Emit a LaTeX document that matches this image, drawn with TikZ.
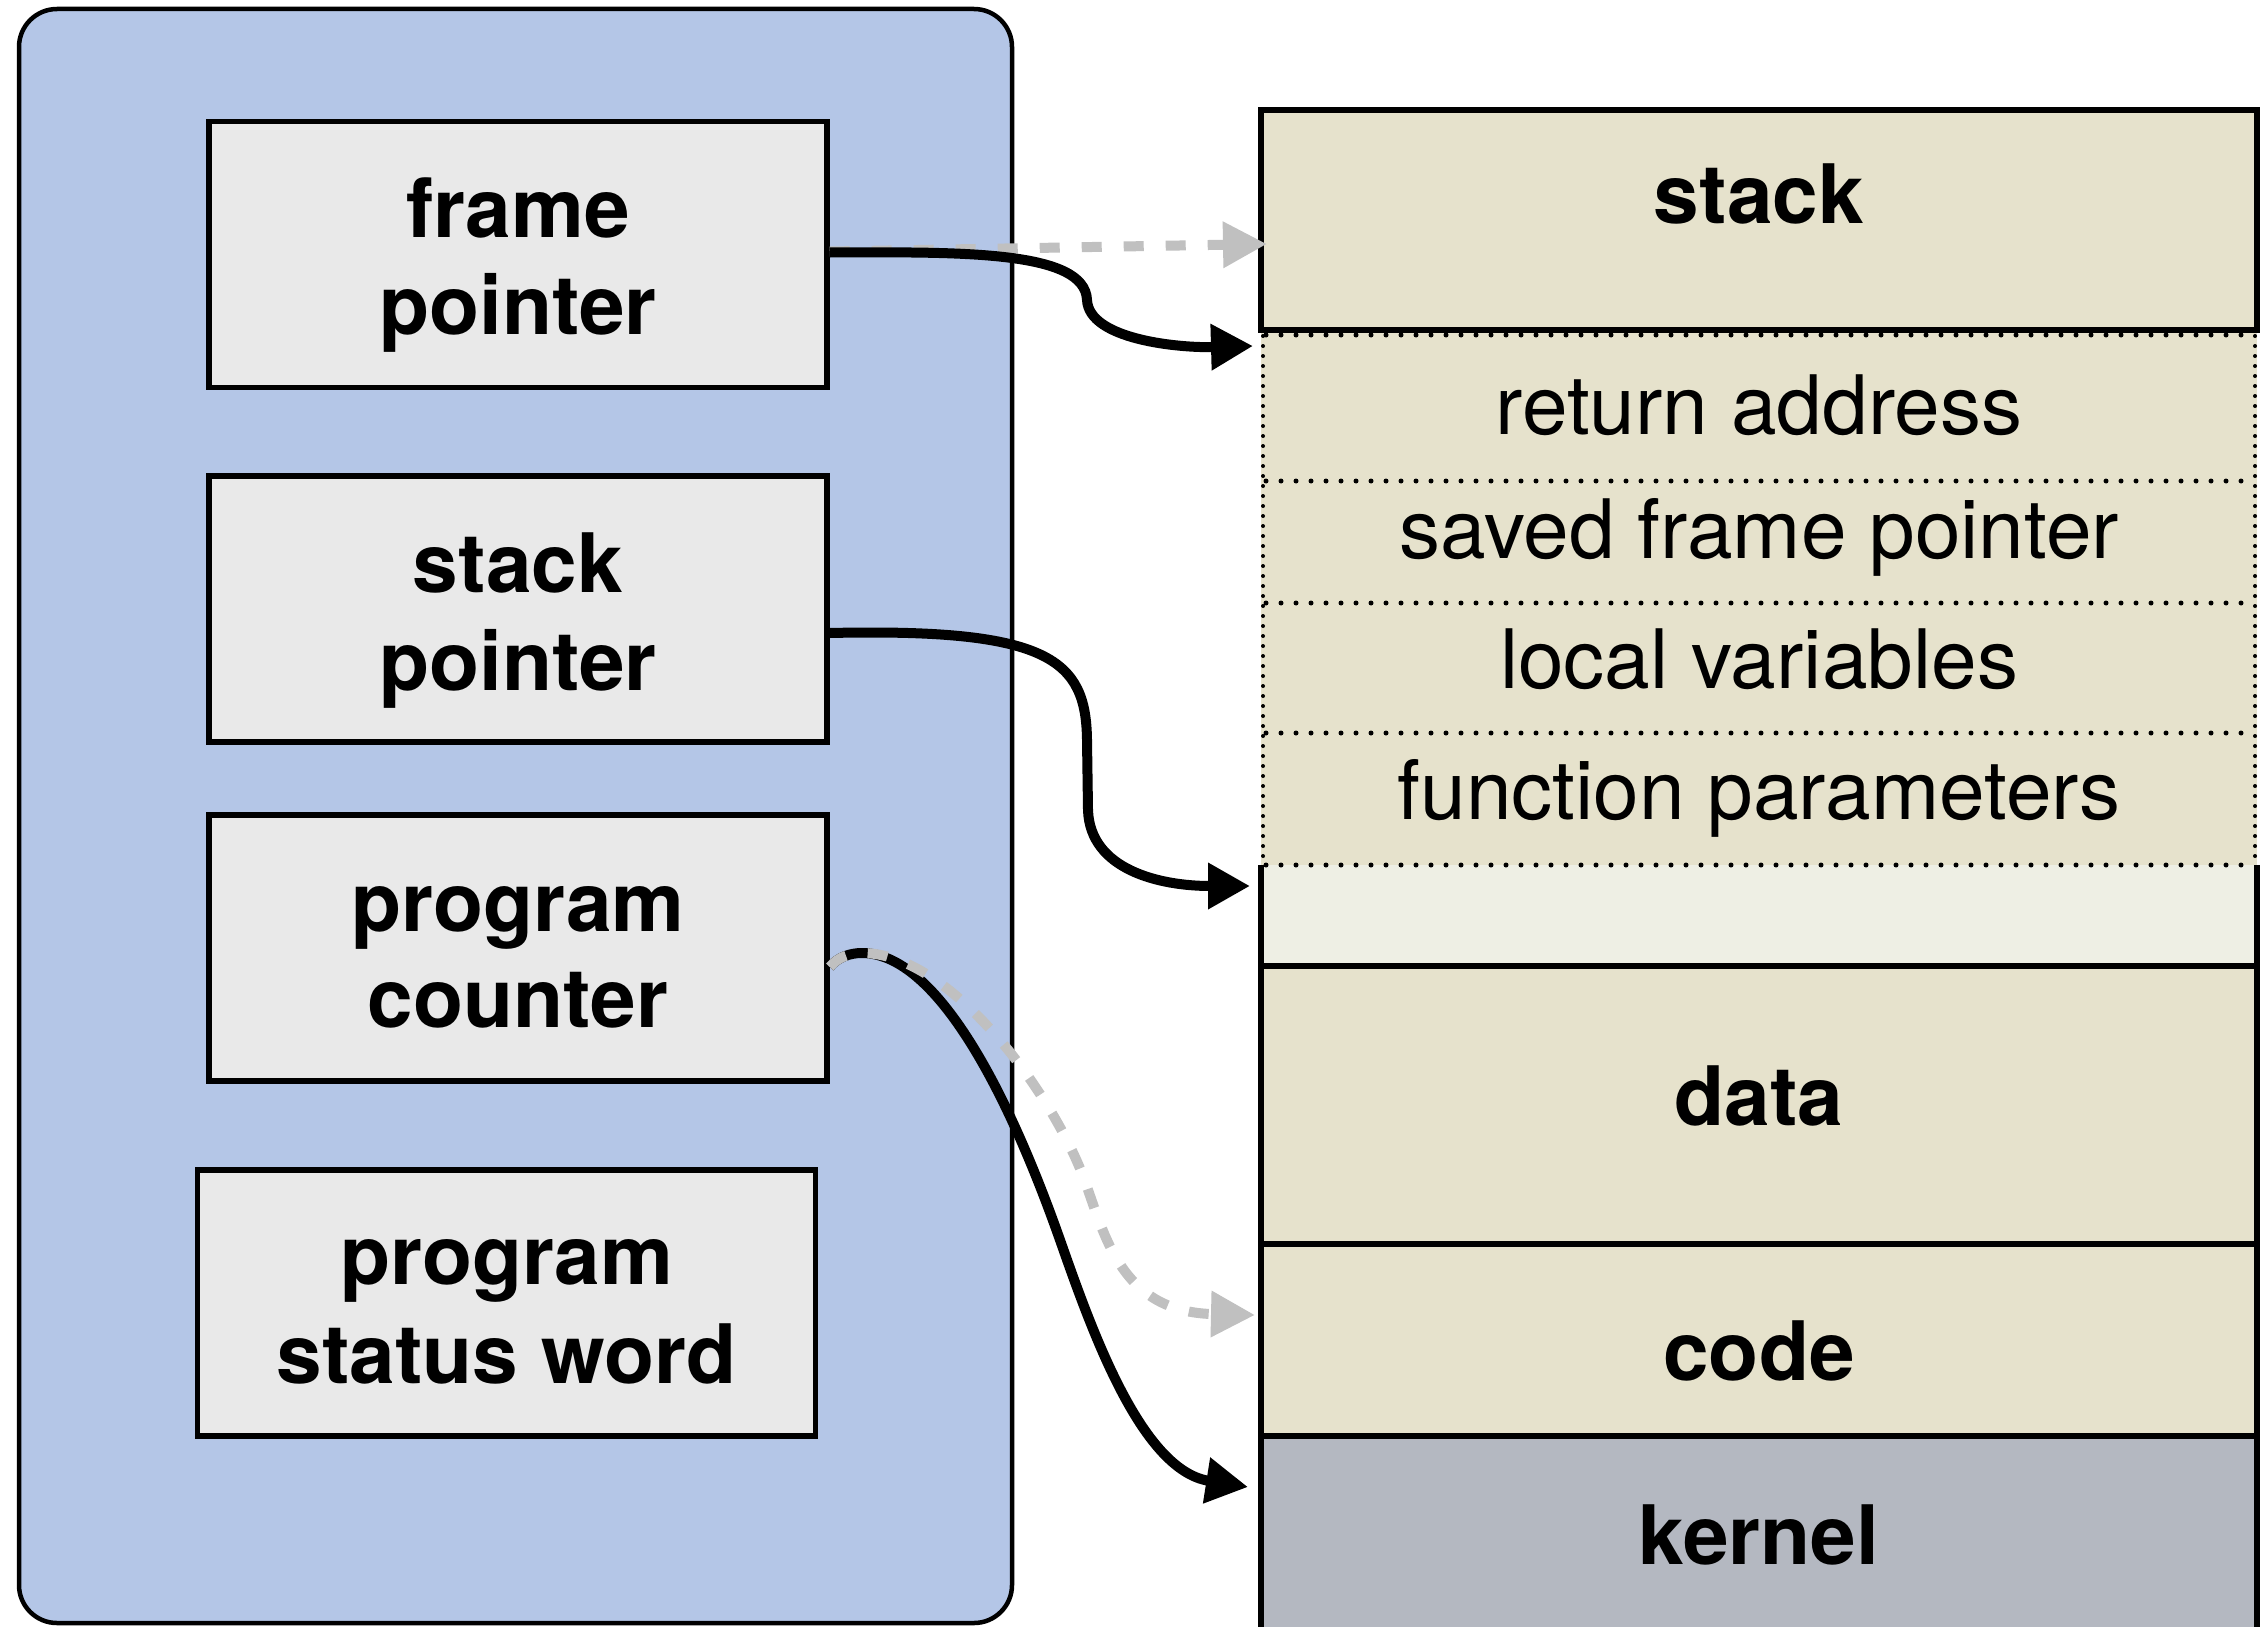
\documentclass[tikz,border=0pt]{standalone}
\usepackage{fontspec}
\setmainfont{TeX Gyre Heros}
\usetikzlibrary{arrows.meta}
\definecolor{panelblue}{RGB}{180,198,231}
\definecolor{boxgray}{RGB}{233,233,233}
\definecolor{memtan}{RGB}{230,226,204}
\definecolor{memlight}{RGB}{238,239,228}
\definecolor{kernelgray}{RGB}{180,184,193}
\definecolor{arrowgray}{RGB}{192,192,192}
\begin{document}
\begin{tikzpicture}[x=1pt,y=-1pt,
  regbox/.style={draw=black, line width=5.5pt, fill=boxgray, minimum width=618pt, minimum height=266pt, inner sep=0pt},
  boldlbl/.style={anchor=base, font=\fontsize{82}{97}\selectfont\bfseries, inner sep=0pt},
  plainlbl/.style={anchor=base, font=\fontsize{82}{97}\selectfont, inner sep=0pt},
  ptr/.style={line width=10pt, -{Triangle[length=42pt,width=44pt]}},
  oldptr/.style={line width=10pt, arrowgray, dash pattern=on 20pt off 22pt, -{Triangle[length=44pt,width=44pt]}},
  dotrow/.style={line width=5pt, line cap=round, dash pattern=on 0pt off 15pt},
  dotcol/.style={line width=4pt, line cap=round, dash pattern=on 0pt off 10pt},
  memline/.style={line width=5.5pt}
]
\useasboundingbox (0,0) rectangle (2266,1627);
\fill[white] (0,0) rectangle (2266,1627);

% CPU panel
\draw[line width=4.5pt, fill=panelblue, rounded corners=38pt] (19,9) rectangle (1012,1623);

% registers
\node[regbox] (fp) at (518,254.5) {};
\node[regbox] (sp) at (518,609) {};
\node[regbox] (pc) at (518,948) {};
\node[regbox] (psw) at (506.5,1303) {};

\node[boldlbl] (fpa) at (518,237) {frame};
\node[boldlbl] (fpb) at (518,334) {pointer};
\node[boldlbl] (spa) at (518,592) {stack};
\node[boldlbl] (spb) at (518,690) {pointer};
\node[boldlbl] (pca) at (518,931) {program};
\node[boldlbl] (pcb) at (518,1027) {counter};
\node[boldlbl] (pswa) at (506.5,1284) {program};
\node[boldlbl] (pswb) at (506.5,1383) {status word};

% memory column fills
\fill[memtan] (1261,110) rectangle (2257,865);
\fill[memlight] (1261,865) rectangle (2257,966);
\fill[memtan] (1261,966) rectangle (2257,1436);
\fill[kernelgray] (1261,1436) rectangle (2257,1627);

% dotted frame
\foreach \yy in {335,481,603,733,865} \draw[dotrow] (1266,\yy) -- (2255,\yy);
\draw[dotcol] (1263,336) -- (1263,865);
\draw[dotcol] (2255,336) -- (2255,865);

% solid lines
\draw[memline] (1261,110) rectangle (2257,330);
\draw[memline] (1261,865) -- (1261,1627);
\draw[memline] (2257,865) -- (2257,1627);
\draw[memline] (1261,966) -- (2257,966);
\draw[memline] (1261,1244) -- (2257,1244);
\draw[memline] (1261,1436) -- (2257,1436);

% memory labels
\node[boldlbl] (mstack) at (1759,223) {stack};
\node[plainlbl] (mret) at (1759,434) {return address};
\node[plainlbl] (msfp) at (1759,558) {saved frame pointer};
\node[plainlbl] (mloc) at (1759,688) {local variables};
\node[plainlbl] (mpar) at (1759,819) {function parameters};
\node[boldlbl] (mdata) at (1759,1125) {data};
\node[boldlbl] (mcode) at (1759,1380) {code};
\node[boldlbl] (mkern) at (1759,1564) {kernel};

% arrow targets
\coordinate (oldfpT) at (1267,244);
\coordinate (fpT) at (1253,346);
\coordinate (spT) at (1250,886);
\coordinate (pcT) at (1248,1487);
\coordinate (oldpcT) at (1255,1315);

% connectors
\draw[oldptr] ([yshift=3pt]fp.east) -- (oldfpT);
\draw[ptr] ([yshift=2pt]fp.east) .. controls (960,252) and (1085,250) .. (1087,300)
  .. controls (1089,340) and (1180,348) .. (fpT);
\draw[ptr] ([yshift=-24pt]sp.east) .. controls (1050,628) and (1086,660) .. (1087,740)
  -- (1088,810) .. controls (1090,870) and (1160,886) .. (spT);
\draw[ptr] ([yshift=-19pt]pc.east) .. controls (838,957) and (850,953) .. (862,953)
  .. controls (930,953) and (1000,1070) .. (1060,1240)
  .. controls (1090,1325) and (1140,1470) .. (pcT);
\draw[oldptr] ([yshift=-19pt]pc.east) .. controls (838,957) and (850,953) .. (862,953)
  .. controls (950,953) and (1050,1090) .. (1083,1176)
  .. controls (1105,1235) and (1120,1312) .. (oldpcT);
\end{tikzpicture}
\end{document}
